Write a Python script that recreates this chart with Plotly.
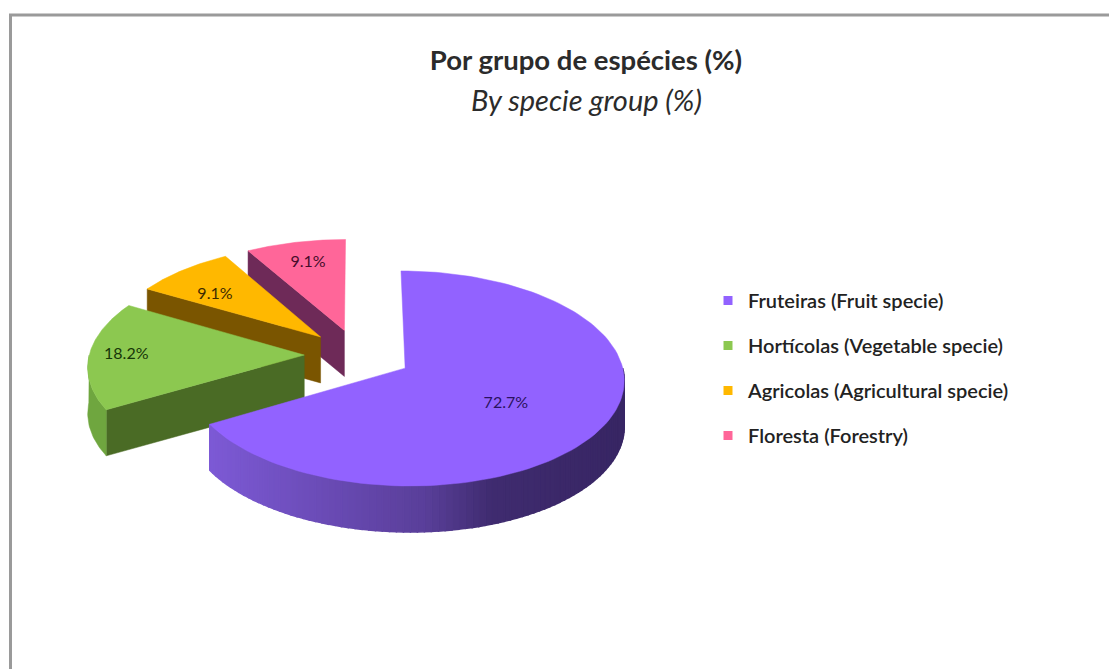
import math
import plotly.graph_objects as go

# ---- data ----
SPECIES = ["Fruteiras (Fruit specie)", "Hortícolas (Vegetable specie)",
           "Agricolas (Agricultural specie)", "Floresta (Forestry)"]
PERCENT = [72.7, 18.2, 9.1, 9.1]

# ---- style ----
TOP = ["#9262ff", "#8cc850", "#ffb800", "#ff6699"]
EDGE_WALL = ["#5d3ea0", "#4a6b25", "#7a5500", "#6e2a58"]
ARC_WALL = [None, "#6fa63f", "#8a6200", "#7a2a60"]
LABEL_COL = ["#2a1260", "#173608", "#3d2a00", "#450c2a"]
LABEL_R = [0.54, 0.83, 0.70, 0.77]
LABEL_SHIFT = [5, 1.5, -4, 0.8]   # degrees
LABEL_DY = 2
TITLE_COL = "#2b2b2b"
FONT = "Lato"

CX, CY = 358, 355        # pie centre on the page
EXPLODE = 0.25           # explosion, in pie radii
A, B = 215, 104          # ellipse radii
P = 0.095                # perspective
DEPTH = 46               # extruded height


def project(mid, theta, r=1.0):
    U = EXPLODE * math.sin(mid) + r * math.sin(theta)
    V = EXPLODE * math.cos(mid) + r * math.cos(theta)
    d = 1 + P * V
    return CX + A * U / d, CY - B * V / d


def arc(mid, t0, t1, n=60):
    return [project(mid, t0 + (t1 - t0) * i / n) for i in range(n + 1)]


def poly(fig, pts, color, name=None, lw=0.5):
    fig.add_trace(go.Scatter(x=[p[0] for p in pts] + [pts[0][0]],
                             y=[p[1] for p in pts] + [pts[0][1]],
                             mode="lines", fill="toself", fillcolor=color,
                             line=dict(color=color, width=lw),
                             hoverinfo="skip", showlegend=False, name=name))


def shade(f):
    stops = [(0.0, (125, 90, 214)), (0.52, (90, 63, 154)), (0.68, (64, 44, 112)), (1.0, (56, 38, 100))]
    for (f0, c0), (f1, c1) in zip(stops, stops[1:]):
        if f <= f1:
            t = (f - f0) / (f1 - f0)
            return "rgb(%d,%d,%d)" % tuple(c0[i] + (c1[i] - c0[i]) * t for i in range(3))
    return "rgb(%d,%d,%d)" % stops[-1][1]


fig = go.Figure()

total = sum(PERCENT)
bounds = [0.0]
for v in PERCENT:
    bounds.append(bounds[-1] + v / total * 2 * math.pi)
mids = [(bounds[i] + bounds[i + 1]) / 2 for i in range(len(PERCENT))]

# back to front: last slice first
for i in reversed(range(len(PERCENT))):
    t0, t1 = bounds[i], bounds[i + 1]
    mid = mids[i]
    apex = project(mid, 0, 0)
    if i == 0:
        # front arc wall with a horizontal shading
        lo, hi = max(t0, math.pi / 2), t1
        n = 90
        xa = project(mid, hi)[0]
        xb = project(mid, lo)[0]
        for k in range(n):
            a0 = lo + (hi - lo) * k / n
            a1 = lo + (hi - lo) * (k + 1) / n
            top = arc(mid, a0, a1, n=2)
            pts = top + [(x, y + DEPTH) for x, y in reversed(top)]
            col = shade((top[1][0] - xa) / (xb - xa))
            poly(fig, pts, col, lw=1.5)
    else:
        p0 = project(mid, t0)
        # radial wall on the near edge
        poly(fig, [apex, p0, (p0[0], p0[1] + DEPTH), (apex[0], apex[1] + DEPTH)], EDGE_WALL[i])
        # arc wall where the rim faces the viewer
        if t0 < 1.5 * math.pi:
            top = arc(mid, t0, min(t1, 1.5 * math.pi), n=30)
            poly(fig, top + [(x, y + DEPTH) for x, y in reversed(top)], ARC_WALL[i])
    # top face
    poly(fig, [apex] + arc(mid, t0, t1, n=120), TOP[i], name=SPECIES[i])

# percentage labels
for i, v in enumerate(PERCENT):
    x, y = project(mids[i], mids[i] + math.radians(LABEL_SHIFT[i]), LABEL_R[i])
    fig.add_trace(go.Scatter(x=[x], y=[y + LABEL_DY], mode="text", text=[f"{v}%"],
                             textposition="middle center", hoverinfo="skip",
                             textfont=dict(family=FONT, size=16, color=LABEL_COL[i]),
                             showlegend=False))

# legend entries
for i, s in enumerate(SPECIES):
    fig.add_trace(go.Scatter(x=[None], y=[None], mode="markers", name=s, legendgroup=s,
                             marker=dict(symbol="square", size=9, color=TOP[i])))

fig.update_layout(
    width=1109, height=669, margin=dict(l=0, r=0, t=0, b=0),
    paper_bgcolor="white", plot_bgcolor="white",
    xaxis=dict(range=[0, 1109], visible=False, fixedrange=True),
    yaxis=dict(range=[669, 0], visible=False, fixedrange=True),
    title=dict(text="<b>Por grupo de espécies (%)</b>", x=586 / 1109, xanchor="center",
               y=1 - 60 / 669, yanchor="middle",
               font=dict(family=FONT, size=27.5, color=TITLE_COL)),
    annotations=[dict(text="<i>By specie group (%)</i>", x=586, y=99, xref="x", yref="y",
                      showarrow=False, font=dict(family=FONT, size=29, color=TITLE_COL))],
    legend=dict(x=708 / 1109, y=1 - 281 / 669, xanchor="left", yanchor="top",
                tracegroupgap=16, bgcolor="rgba(0,0,0,0)",
                font=dict(family=FONT, size=20, color="#222222", weight=600)),
    shapes=[
        dict(type="line", x0=10.5, x1=10.5, y0=15, y1=669, xref="x", yref="y",
             line=dict(color="#9a9a9a", width=3)),
        dict(type="line", x0=9, x1=1109, y0=15, y1=15, xref="x", yref="y",
             line=dict(color="#9a9a9a", width=3)),
    ],
)

fig.write_html("out.html", config={"displayModeBar": False},
               post_script="document.body.style.margin='0';document.body.style.overflow='hidden';")
